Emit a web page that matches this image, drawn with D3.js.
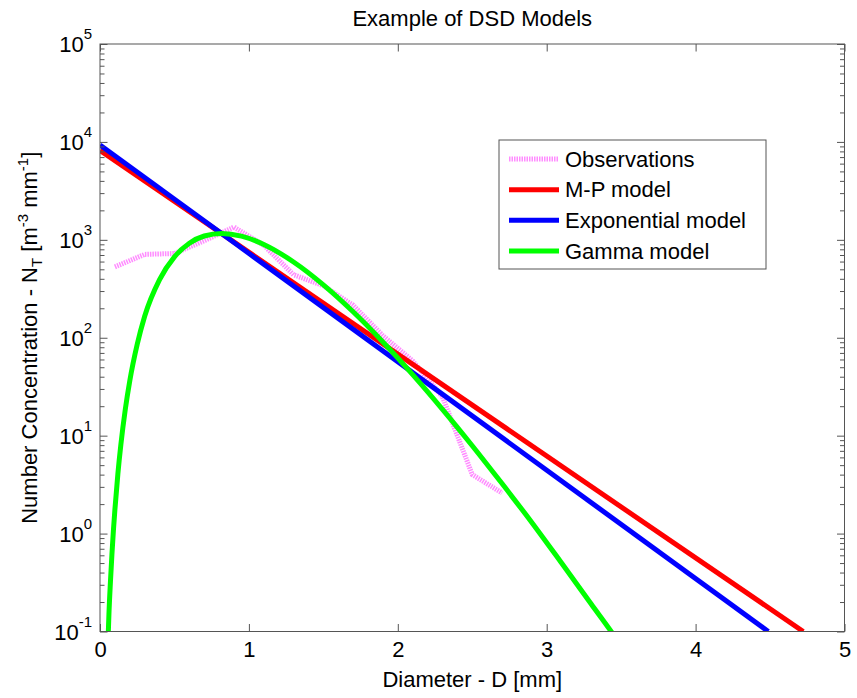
<!DOCTYPE html>
<html>
<head>
<meta charset="utf-8">
<script src="https://cdn.jsdelivr.net/npm/d3@7"></script>
<style>
  html, body { margin: 0; padding: 0; background: #fff; }
  svg text { font-family: "Liberation Sans", Arial, Helvetica, sans-serif; fill: #000; }
</style>
</head>
<body>
<svg id="chart" width="857" height="698"></svg>
<script>
// Observed drop size distribution (bin centres in mm, counts in m^-3 mm^-1)
const obsDiameter = [0.1, 0.3, 0.5, 0.7, 0.9, 1.1, 1.3, 1.5, 1.7, 1.9, 2.1, 2.3, 2.5, 2.7];
const obsConcentration = [530, 710, 725, 980, 1350, 880, 440, 340, 215, 105, 58, 25, 4.0, 2.6];

// Marshall-Palmer model (straight line on a log axis)
const mpDiameter = [0, 4.723];
const mpConcentration = [8190, 0.1];

// Exponential fit
const expDiameter = [0, 4.488];
const expConcentration = [9310, 0.1];

// Gamma fit
const gammaDiameter = [0.056, 0.06, 0.07, 0.08, 0.09, 0.10, 0.12, 0.14, 0.17, 0.20, 0.25, 0.30,
  0.40, 0.50, 0.60, 0.70, 0.817, 0.95, 1.1, 1.3, 1.5, 1.7, 1.9, 2.1, 2.3, 2.5, 2.7, 2.9, 3.1, 3.3, 3.45, 3.5];
const gammaConcentration = [0.1, 0.15, 0.32, 0.61, 1.07, 1.75, 4.06, 8.07, 18.6, 36.3, 85.7, 166,
  393, 671, 923, 1094, 1161, 1091, 897, 594, 347, 184, 90.6, 42.1, 18.6, 7.9, 3.24, 1.30, 0.50, 0.19, 0.092, 0.071];

// Axis ticks
const xTicks = [0, 1, 2, 3, 4, 5];
const yDecadeExponents = [-1, 0, 1, 2, 3, 4, 5];

const legendLabels = ["Observations", "M-P model", "Exponential model", "Gamma model"];
const titleText = "Example of DSD Models";
const xLabelText = "Diameter - D [mm]";

const svg = d3.select("#chart");
const plotLeft = 100, plotRight = 844.5, plotTop = 44, plotBottom = 631.5;
const axisColor = "#555";
const fontSize = 22;

const x = d3.scaleLinear().domain([0, 5]).range([plotLeft, plotRight]);
const y = d3.scaleLog().domain([0.1, 1e5]).range([plotBottom, plotTop]);

const decades = yDecadeExponents.map(e => Math.pow(10, e));
const minors = [];
yDecadeExponents.slice(0, -1).forEach(e => {
  for (let k = 2; k <= 9; k++) minors.push(k * Math.pow(10, e));
});

// Clip marks to the axes box
svg.append("defs").append("clipPath").attr("id", "plotClip")
  .append("rect").attr("x", plotLeft).attr("y", plotTop)
  .attr("width", plotRight - plotLeft).attr("height", plotBottom - plotTop);

const plot = svg.append("g").attr("clip-path", "url(#plotClip)");

const toPoints = (ds, ns) => ds.map((d, i) => [d, ns[i]]);
const straight = d3.line().x(p => x(p[0])).y(p => y(p[1]));
const smooth = d3.line().x(p => x(p[0])).y(p => y(p[1])).curve(d3.curveMonotoneX);

const series = [
  { pts: toPoints(obsDiameter, obsConcentration), gen: straight, color: "#ff8cff", width: 5, dash: "1.5,1" },
  { pts: toPoints(mpDiameter, mpConcentration), gen: straight, color: "#ff0000", width: 5, dash: null },
  { pts: toPoints(expDiameter, expConcentration), gen: straight, color: "#0000ff", width: 5, dash: null },
  { pts: toPoints(gammaDiameter, gammaConcentration), gen: smooth, color: "#00ff00", width: 5, dash: null }
];

series.forEach(s => {
  plot.append("path")
    .attr("d", s.gen(s.pts))
    .attr("fill", "none")
    .attr("stroke", s.color)
    .attr("stroke-width", s.width)
    .attr("stroke-dasharray", s.dash)
    .attr("stroke-linejoin", "round");
});

// Axes: ticks point inward, mirrored on the top and right sides
function styleAxis(g) {
  g.select(".domain").remove();
  g.selectAll(".tick line").attr("stroke", axisColor);
}

svg.append("g").attr("transform", `translate(0,${plotBottom})`)
  .call(d3.axisBottom(x).tickValues(xTicks).tickSizeInner(-7.5).tickSizeOuter(0)
    .tickPadding(10).tickFormat(d3.format("d")))
  .call(styleAxis)
  .call(g => g.selectAll(".tick text").attr("font-size", fontSize)
    .attr("font-family", "Liberation Sans, Arial, sans-serif").attr("fill", "#000"));

svg.append("g").attr("transform", `translate(0,${plotTop})`)
  .call(d3.axisTop(x).tickValues(xTicks).tickSizeInner(-7.5).tickSizeOuter(0).tickFormat(""))
  .call(styleAxis);

[[plotLeft, d3.axisLeft], [plotRight, d3.axisRight]].forEach(([pos, axisFn]) => {
  svg.append("g").attr("transform", `translate(${pos},0)`)
    .call(axisFn(y).tickValues(decades).tickSizeInner(-7.5).tickSizeOuter(0).tickFormat(""))
    .call(styleAxis);
  svg.append("g").attr("transform", `translate(${pos},0)`)
    .call(axisFn(y).tickValues(minors).tickSizeInner(-4.5).tickSizeOuter(0).tickFormat(""))
    .call(styleAxis);
});

// Y tick labels as powers of ten
const yLabels = svg.append("g");
yDecadeExponents.forEach(e => {
  const t = yLabels.append("text")
    .attr("x", 92).attr("y", y(Math.pow(10, e)) + 8)
    .attr("text-anchor", "end").attr("font-size", fontSize);
  t.append("tspan").text("10");
  t.append("tspan").attr("dy", -13).attr("font-size", 15).text(String(e));
});

// Axes box
svg.append("rect")
  .attr("x", plotLeft).attr("y", plotTop)
  .attr("width", plotRight - plotLeft).attr("height", plotBottom - plotTop)
  .attr("fill", "none").attr("stroke", axisColor).attr("stroke-width", 1);

// Title and axis labels
svg.append("text").attr("x", (plotLeft + plotRight) / 2).attr("y", 26)
  .attr("text-anchor", "middle").attr("font-size", fontSize).text(titleText);

svg.append("text").attr("x", (plotLeft + plotRight) / 2).attr("y", 687)
  .attr("text-anchor", "middle").attr("font-size", fontSize).text(xLabelText);

const yl = svg.append("text")
  .attr("transform", `translate(37,${(plotTop + plotBottom) / 2}) rotate(-90)`)
  .attr("text-anchor", "middle").attr("font-size", fontSize);
yl.append("tspan").text("Number Concentration - N");
yl.append("tspan").attr("dy", 5).attr("font-size", 15).text("T");
yl.append("tspan").attr("dy", -5).text(" [m");
yl.append("tspan").attr("dy", -9).attr("font-size", 15).text("-3");
yl.append("tspan").attr("dy", 9).text(" mm");
yl.append("tspan").attr("dy", -9).attr("font-size", 15).text("-1");
yl.append("tspan").attr("dy", 9).text("]");

// Legend
const legend = svg.append("g");
legend.append("rect")
  .attr("x", 499).attr("y", 140).attr("width", 267).attr("height", 129)
  .attr("fill", "#fff").attr("stroke", axisColor).attr("stroke-width", 1);

const rowY = d3.scalePoint().domain(legendLabels).range([159, 251]);
legendLabels.forEach((label, i) => {
  const s = series[i];
  legend.append("line")
    .attr("x1", 509).attr("x2", 559)
    .attr("y1", rowY(label)).attr("y2", rowY(label))
    .attr("stroke", s.color).attr("stroke-width", s.width)
    .attr("stroke-dasharray", s.dash);
  legend.append("text")
    .attr("x", 565).attr("y", rowY(label)).attr("dy", "0.35em")
    .attr("font-size", fontSize).text(label);
});
</script>
</body>
</html>
